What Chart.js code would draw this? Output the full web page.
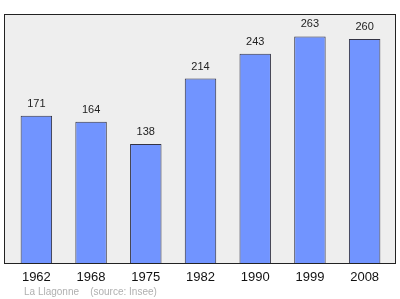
<!DOCTYPE html>
<html>
<head>
<meta charset="utf-8">
<script src="https://cdn.jsdelivr.net/npm/chart.js@4/dist/chart.umd.min.js"></script>
<style>
  html, body { margin: 0; padding: 0; background: #fff; }
  #wrap { width: 400px; height: 299px; position: relative; }
</style>
</head>
<body>
<div id="wrap"><canvas id="graph"></canvas></div>
<script>
// Données de population
const years = ["1962", "1968", "1975", "1982", "1990", "1999", "2008"];
const population = [171, 164, 138, 214, 243, 263, 260];
const footerText = "La Llagonne    (source: Insee)";

// Cadre gris derrière les barres
const framePlugin = {
  id: "frame",
  beforeDatasetsDraw(chart) {
    const { ctx, chartArea } = chart;
    ctx.save();
    ctx.fillStyle = "#eeeeee";
    ctx.strokeStyle = "#222222";
    ctx.lineWidth = 1;
    ctx.fillRect(4.5, 14.5, 391, chartArea.bottom - 14);
    ctx.strokeRect(4.5, 14.5, 391, chartArea.bottom - 14);
    ctx.restore();
  },
};

// Valeurs au-dessus des barres + source en bas
const labelPlugin = {
  id: "labels",
  afterDatasetsDraw(chart) {
    const { ctx } = chart;
    const meta = chart.getDatasetMeta(0);
    ctx.save();
    ctx.font = "11px 'Liberation Sans', Arial, sans-serif";
    ctx.fillStyle = "#222222";
    ctx.textAlign = "center";
    ctx.textBaseline = "middle";
    meta.data.forEach((bar, i) => {
      ctx.fillText(population[i], bar.x, bar.y - 12);
    });
    ctx.font = "10px 'Liberation Sans', Arial, sans-serif";
    ctx.fillStyle = "#b0b0b0";
    ctx.textAlign = "left";
    ctx.fillText(footerText, 24, 292);
    ctx.restore();
  },
};

new Chart(document.querySelector("#graph"), {
  type: "bar",
  data: {
    labels: years,
    datasets: [
      {
        data: population,
        backgroundColor: "#7194ff",
        borderColor: "#333344",
        borderWidth: 1,
        borderSkipped: "bottom",
        categoryPercentage: 1,
        barPercentage: 0.575,
      },
    ],
  },
  options: {
    responsive: true,
    maintainAspectRatio: false,
    animation: false,
    layout: { padding: { left: 9, right: 8, top: 14, bottom: 0 } },
    plugins: {
      legend: { display: false },
      tooltip: { enabled: false },
    },
    scales: {
      x: {
        grid: { display: false },
        border: { display: false },
        ticks: {
          color: "#111111",
          padding: -1,
          font: { size: 13, family: "'Liberation Sans', Arial, sans-serif" },
        },
        afterFit(scale) {
          scale.height = 36;
        },
      },
      y: {
        display: false,
        min: 0,
        max: 289,
      },
    },
  },
  plugins: [framePlugin, labelPlugin],
});
</script>
</body>
</html>
